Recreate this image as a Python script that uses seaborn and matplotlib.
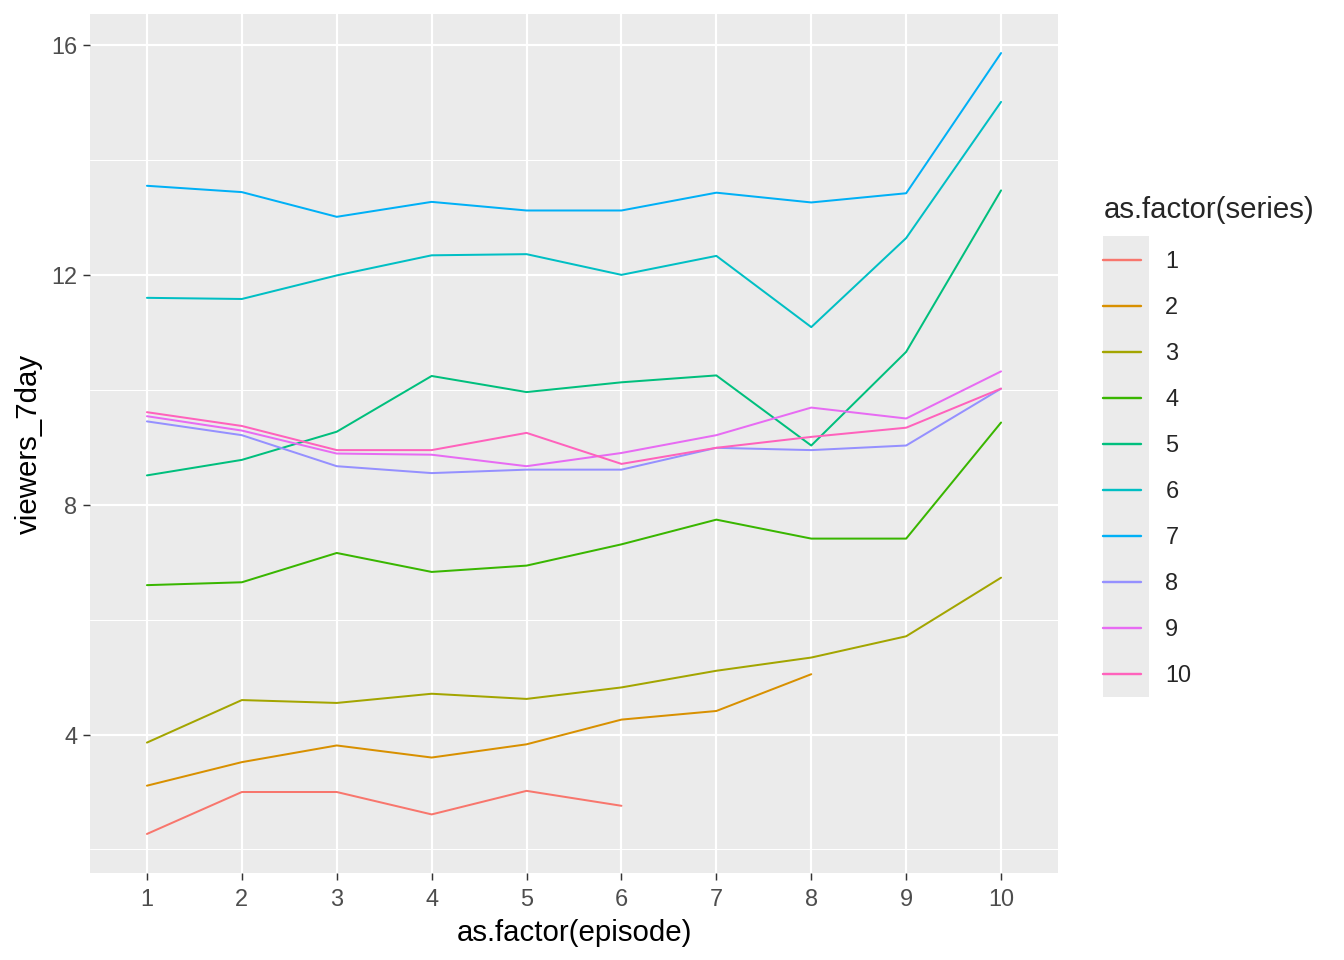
import matplotlib
matplotlib.use("Agg")
import matplotlib.pyplot as plt
from matplotlib.patches import Rectangle
import seaborn as sns
import pandas as pd

# viewers_7day per episode
s1 = [2.27, 3.00, 3.00, 2.61, 3.02, 2.76]
s2 = [3.11, 3.52, 3.81, 3.60, 3.83, 4.26, 4.41, 5.05]
s3 = [3.86, 4.60, 4.55, 4.71, 4.62, 4.82, 5.11, 5.34, 5.71, 6.73]
s4 = [6.60, 6.65, 7.16, 6.83, 6.94, 7.31, 7.74, 7.41, 7.41, 9.43]
s5 = [8.51, 8.78, 9.27, 10.24, 9.96, 10.13, 10.25, 9.03, 10.66, 13.47]
s6 = [11.60, 11.58, 11.99, 12.34, 12.36, 12.00, 12.33, 11.09, 12.64, 15.01]
s7 = [13.55, 13.44, 13.01, 13.27, 13.12, 13.12, 13.43, 13.26, 13.42, 15.86]
s8 = [9.45, 9.21, 8.67, 8.55, 8.61, 8.61, 8.99, 8.95, 9.03, 10.02]
s9 = [9.54, 9.29, 8.89, 8.87, 8.67, 8.90, 9.21, 9.69, 9.50, 10.32]
s10 = [9.61, 9.37, 8.95, 8.95, 9.25, 8.71, 8.99, 9.18, 9.34, 10.02]

series_values = [s1, s2, s3, s4, s5, s6, s7, s8, s9, s10]
series_labels = [str(i) for i in range(1, 11)]
episode_labels = [str(i) for i in range(1, 11)]

# ggplot2 default hue palette for 10 levels
hue_colors = ["#F8766D", "#D89000", "#A3A500", "#39B600", "#00BF7D",
              "#00BFC4", "#00B0F6", "#9590FF", "#E76BF3", "#FF62BC"]

rows = []
for label, vals in zip(series_labels, series_values):
    for ep, v in enumerate(vals, start=1):
        rows.append({"series": label, "episode": ep, "viewers_7day": v})
df = pd.DataFrame(rows)

sns.set_theme(style="darkgrid", rc={
    "axes.facecolor": "#EBEBEB",
    "grid.color": "white",
    "axes.edgecolor": "#EBEBEB",
})
plt.rcParams["font.family"] = ["Liberation Sans", "DejaVu Sans"]

fig = plt.figure(figsize=(14, 10), dpi=96)
ax = fig.add_axes([90 / 1344, 1 - 873 / 960, (1058 - 90) / 1344, (873 - 14) / 960])
ax.set_zorder(1)

sns.lineplot(data=df, x="episode", y="viewers_7day", hue="series",
             hue_order=series_labels, palette=hue_colors, linewidth=1.5,
             estimator=None, sort=False, ax=ax)

ymin = min(min(v) for v in series_values)
ymax = max(max(v) for v in series_values)
pad = (ymax - ymin) * 0.05
ax.set_ylim(ymin - pad, ymax + pad)
ax.set_xlim(0.4, 10.6)
ax.set_xticks(range(1, 11))
ax.set_xticklabels(episode_labels)
ax.set_yticks([4, 8, 12, 16])
ax.set_yticks([2, 6, 10, 14], minor=True)
ax.grid(which="major", color="white", linewidth=1.6)
ax.grid(which="minor", axis="y", color="white", linewidth=0.8)
ax.grid(which="minor", axis="x", visible=False)
for sp in ax.spines.values():
    sp.set_visible(False)

ax.tick_params(axis="both", which="major", length=5.5, width=1.1, color="#333333",
               labelsize=17.6, labelcolor="#4D4D4D", bottom=True, left=True)
ax.tick_params(axis="x", which="major", pad=6)
ax.tick_params(axis="y", which="major", pad=4)
ax.tick_params(axis="y", which="minor", length=0)

ax.set_xlabel("as.factor(episode)", fontsize=22, color="black", labelpad=6)
ax.set_ylabel("viewers_7day", fontsize=22, color="black", labelpad=6)

leg = ax.legend(title="as.factor(series)", loc="upper left",
                bbox_to_anchor=(1094 / 1344, 1 - 187 / 960), bbox_transform=fig.transFigure,
                frameon=False, fontsize=17.6, title_fontsize=22,
                handlelength=1.6, handletextpad=1.04, labelspacing=0.98,
                borderaxespad=0, alignment="left")
leg._legend_box.sep = 19.5
for line in leg.get_lines():
    line.set_linewidth(1.8)

fig.patches.append(Rectangle((1103 / 1344, 1 - 697 / 960), 46 / 1344, 461 / 960,
                             transform=fig.transFigure, facecolor="#EBEBEB",
                             edgecolor="none", zorder=-1))

fig.savefig("out.png", dpi=96, facecolor="white")
